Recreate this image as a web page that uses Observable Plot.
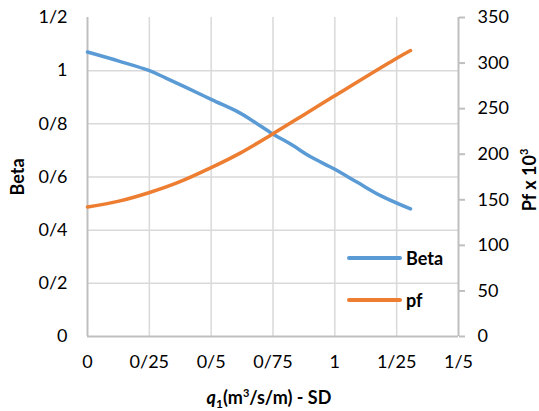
<!DOCTYPE html>
<html>
<head>
<meta charset="utf-8">
<script src="https://cdn.jsdelivr.net/npm/d3@7"></script>
<script src="https://cdn.jsdelivr.net/npm/@observablehq/plot@0.6"></script>
<style>
  html, body { margin: 0; padding: 0; background: #fff; }
  #wrap { position: relative; width: 539px; height: 411px; font-family: Lato, "Open Sans", sans-serif; }
  .lbl { position: absolute; font-weight: bold; font-size: 18px; color: #000; white-space: nowrap; }
  .leg { position: absolute; font-weight: bold; font-size: 18px; color: #000; display: flex; align-items: center; }
  .leg span.sw { display: inline-block; width: 55px; height: 4px; border-radius: 2px; margin-right: 4px; }
</style>
</head>
<body>
<div id="wrap"></div>
<script>
// Data
const betaQ = [0, 0.127, 0.248, 0.315, 0.396, 0.504, 0.612, 0.672, 0.747, 0.821, 0.902, 0.996, 1.091, 1.185, 1.306];
const betaVals = [1.07, 1.036, 1.001, 0.973, 0.938, 0.890, 0.843, 0.809, 0.763, 0.724, 0.676, 0.631, 0.580, 0.530, 0.480];
const pfQ = [0, 0.127, 0.248, 0.369, 0.504, 0.619, 0.747, 0.882, 0.996, 1.245, 1.306];
const pfVals = [142.0, 148.5, 157.7, 169.3, 185.8, 201.5, 222.0, 244.5, 263.5, 304.5, 313.8];
const xTicks = [0, 0.25, 0.5, 0.75, 1, 1.25, 1.5];
const betaTicks = [0, 0.2, 0.4, 0.6, 0.8, 1, 1.2];
const pfTicks = [0, 50, 100, 150, 200, 250, 300, 350];
const seriesNames = ["Beta", "pf"];
const colors = ["#5B9BD5", "#ED7D31"];

const betaMax = 1.2, pfMax = 350;
const toBeta = v => v * betaMax / pfMax;
const fmt = d => String(+d.toFixed(4)).replace(".", "/");

const betaData = betaQ.map((q, i) => ({q, v: betaVals[i]}));
const pfData = pfQ.map((q, i) => ({q, v: pfVals[i]}));

const grid = "#d9d9d9", axisCol = "#bfbfbf";

const chart = Plot.plot({
  width: 539, height: 411,
  marginLeft: 87, marginRight: 81, marginTop: 17, marginBottom: 75,
  style: {fontFamily: "Lato, 'Open Sans', sans-serif", fontSize: "18px", color: "#000", background: "#fff", overflow: "visible"},
  x: {domain: [0, 1.5]},
  y: {domain: [0, betaMax]},
  marks: [
    Plot.gridX(xTicks.slice(1, -1), {stroke: grid, strokeOpacity: 1, strokeWidth: 1.5}),
    Plot.gridY(betaTicks.slice(1, -1), {stroke: grid, strokeOpacity: 1, strokeWidth: 1.5}),
    Plot.ruleX([0], {stroke: axisCol, strokeWidth: 2}),
    Plot.ruleX([1.5], {stroke: axisCol, strokeWidth: 2}),
    Plot.ruleY([0], {stroke: axisCol, strokeWidth: 2}),
    Plot.axisX({ticks: xTicks, tickSize: 0, tickPadding: 19, tickFormat: fmt, label: null, fill: "#000", fontSize: 18}),
    Plot.axisY({ticks: betaTicks, tickSize: 0, tickPadding: 20, tickFormat: fmt, label: null, fill: "#000", fontSize: 18}),
    Plot.axisY({anchor: "right", ticks: pfTicks.map(toBeta), tickSize: 6, stroke: axisCol, strokeWidth: 2,
      tickPadding: 13, tickFormat: d => String(Math.round(d * pfMax / betaMax)), label: null, fill: "#000", fontSize: 18}),
    Plot.line(betaData, {x: "q", y: "v", stroke: colors[0], strokeWidth: 3.5, curve: "catmull-rom"}),
    Plot.line(pfData, {x: "q", y: d => toBeta(d.v), stroke: colors[1], strokeWidth: 3.5, curve: "catmull-rom"})
  ]
});

const wrap = document.getElementById("wrap");
wrap.appendChild(chart);
chart.style.position = "absolute"; chart.style.left = "0"; chart.style.top = "0";

function addLabel(html, css) {
  const d = document.createElement("div");
  d.className = "lbl";
  d.innerHTML = html;
  Object.assign(d.style, css);
  wrap.appendChild(d);
  return d;
}
addLabel("Beta", {left: "17px", top: "177px", transform: "translate(-50%,-50%) rotate(-90deg)"});
addLabel("Pf x 10<sup style='font-size:11px;vertical-align:8px;line-height:0'>3</sup>", {left: "529px", top: "180px", transform: "translate(-50%,-50%) rotate(-90deg)"});
addLabel("<i>q</i><sub style='font-size:12px;vertical-align:-4px;line-height:0'>1</sub>(m<sup style='font-size:11px;vertical-align:7px;line-height:0'>3</sup>/s/m) - SD", {left: "269px", top: "397px", transform: "translate(-50%,-50%)"});

seriesNames.forEach((name, i) => {
  const d = document.createElement("div");
  d.className = "leg";
  d.innerHTML = `<span class="sw" style="background:${colors[i]}"></span>${name}`;
  d.style.left = "347px";
  d.style.top = (i === 0 ? 258 : 300) + "px";
  d.style.transform = "translateY(-50%)";
  wrap.appendChild(d);
});
</script>
</body>
</html>
